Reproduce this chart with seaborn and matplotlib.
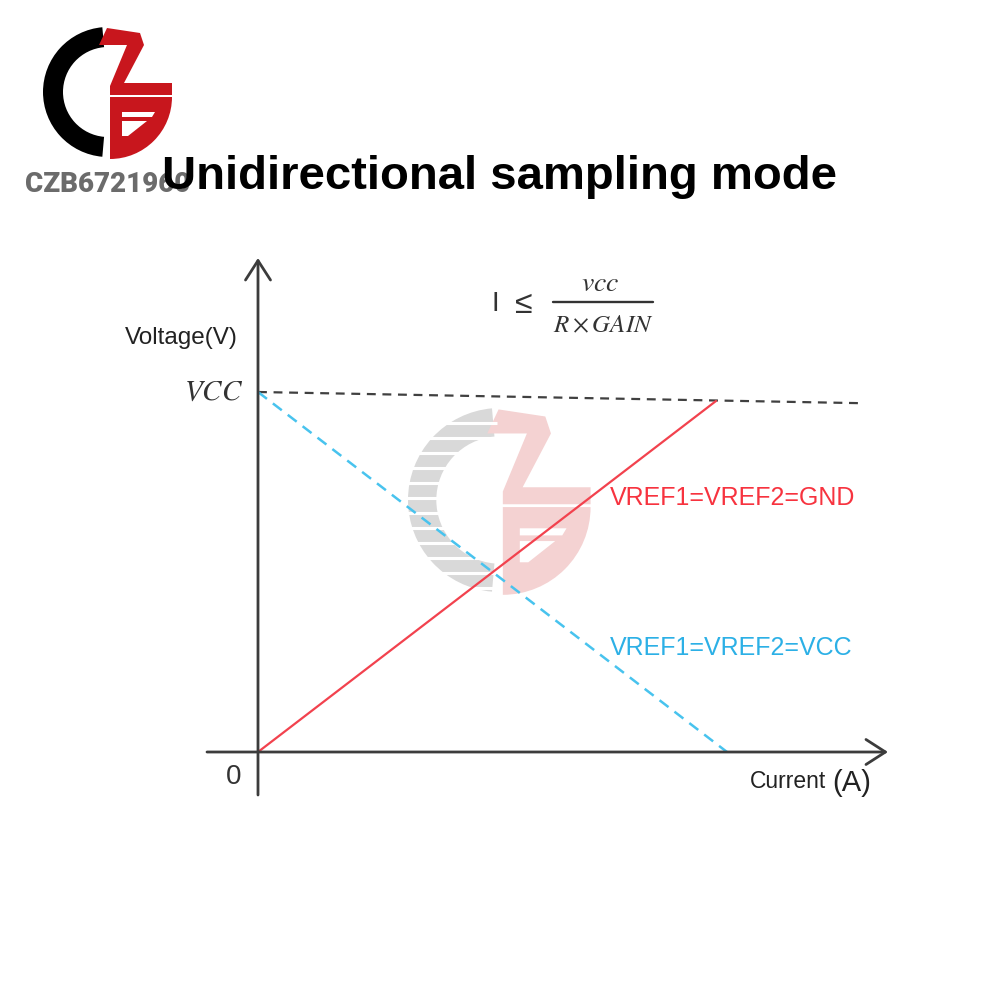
import numpy as np
import pandas as pd
import matplotlib
matplotlib.use("Agg")
import matplotlib.pyplot as plt
from matplotlib.patches import Wedge, Polygon
import seaborn as sns

# ---- data (current in units of I_max, voltage in units of VCC) ----
current_gnd = [0.0, 1.0]
voltage_gnd = [0.0, 0.975]
current_vcc = [0.0, 1.024]
voltage_vcc = [1.0, 0.0]
current_ref = [0.0, 1.314]
voltage_ref = [1.0, 0.969]

title_text = "Unidirectional sampling mode"
label_gnd = "VREF1=VREF2=GND"
label_vcc = "VREF1=VREF2=VCC"

sns.set_theme(style="white")
plt.rcParams["font.family"] = ["Liberation Sans", "DejaVu Sans"]
plt.rcParams["mathtext.fontset"] = "stix"

RED_LINE = "#f2424e"
RED_TEXT = "#f7333f"
BLUE_LINE = "#48c3ee"
BLUE_TEXT = "#2cb0e6"
AXIS = "#3c3c3c"

fig = plt.figure(figsize=(10, 10), dpi=100)

# decoration layer in pixel units (y grows downward)
deco = fig.add_axes([0, 0, 1, 1], zorder=0)
deco.set_xlim(0, 1000)
deco.set_ylim(1000, 0)
deco.axis("off")

# main diagram axes: origin at pixel (258, 752), 458 px per current unit, 360 px per volt unit
OX, OY, SX, SY = 258, 752, 458, 360
ax = fig.add_axes([0, 0, 1, 1], zorder=1)
ax.patch.set_alpha(0)
ax.axis("off")


def draw_mark(a, cx, cy, R, left_c, right_c, stripes=False):
    """CZB emblem: a C on the left, a Z stacked on a B on the right."""
    s = R / 65.0

    def P(x, y):
        return (cx + (x - 108) * s, cy + (y - 92) * s)

    a.add_patch(Wedge((cx, cy), R, 95, 265, width=20 * s, color=left_c, lw=0))
    z_shape = [P(107, 28), P(140, 33), P(144, 45), P(124, 83), P(172, 83),
               P(172, 95), P(110, 95), P(110, 86), P(127, 45), P(99, 45)]
    a.add_patch(Polygon(z_shape, closed=True, color=right_c, lw=0))
    a.add_patch(Wedge(P(110, 97), 62 * s, 0, 90, color=right_c, lw=0))
    a.add_patch(Polygon([P(122, 112), P(155, 112), P(152, 117), P(122, 117)],
                        closed=True, color="white", lw=0))
    a.add_patch(Polygon([P(122, 121), P(147, 121), P(128, 136), P(122, 136)],
                        closed=True, color="white", lw=0))
    if stripes:
        for yy in np.arange(cy - R + 15, cy + R, 15.0):
            a.plot([cx - R - 2, cx - 3], [yy, yy], color="white", lw=2.2,
                   solid_capstyle="butt")


# faded watermark behind the diagram
draw_mark(deco, 500, 500, 92, "#d9d9d9", "#f4d2d2", stripes=True)

# logo in the corner
draw_mark(deco, 108, 92, 65, "#000000", "#c8161d")
deco.text(108, 192, "CZB6721960", ha="center", va="baseline", color="#6b6b6b",
          fontsize=20, fontweight="black", family=["Roboto", "DejaVu Sans"])

# title
deco.text(500, 189, title_text, ha="center", va="baseline", color="black",
          fontsize=34, fontweight="bold")

# axes with open arrow heads
arrow = dict(arrowstyle="->,head_length=0.7,head_width=0.45", lw=2.0,
             color=AXIS, mutation_scale=20, shrinkA=0, shrinkB=0)
ax.annotate("", xy=((888 - OX) / SX, 0), xytext=((207 - OX) / SX, 0), arrowprops=arrow)
ax.annotate("", xy=(0, (OY - 258) / SY), xytext=(0, (OY - 795) / SY), arrowprops=arrow)

# lines
df_gnd = pd.DataFrame({"current": current_gnd, "voltage": voltage_gnd})
df_vcc = pd.DataFrame({"current": current_vcc, "voltage": voltage_vcc})
df_ref = pd.DataFrame({"current": current_ref, "voltage": voltage_ref})

sns.lineplot(data=df_ref, x="current", y="voltage", ax=ax, color="#404040",
             lw=1.6, linestyle=(0, (4, 3)), sort=False, legend=False)
sns.lineplot(data=df_vcc, x="current", y="voltage", ax=ax, color=BLUE_LINE,
             lw=1.8, linestyle=(0, (4.5, 3)), sort=False, legend=False)
sns.lineplot(data=df_gnd, x="current", y="voltage", ax=ax, color=RED_LINE,
             lw=1.6, sort=False, legend=False)
ax.set_xlim(-OX / SX, (1000 - OX) / SX)
ax.set_ylim(-(1000 - OY) / SY, OY / SY)

# formula
deco.text(495, 304, "I", ha="center", va="center", fontsize=20, color="#333333")
deco.text(523, 305, "\u2264", ha="center", va="center", fontsize=23, color="#333333")
deco.plot([553, 653], [302, 302], color="#333333", lw=1.7)
deco.text(600, 291, r"$vcc$", ha="center", va="baseline", fontsize=20, color="#333333")
deco.text(603, 332, r"$R\times GAIN$", ha="center", va="baseline", fontsize=18, color="#333333")

# axis labels
deco.text(181, 338, "Voltage(V)", ha="center", va="center", fontsize=17.5, color="#222222")
deco.text(243, 392, r"$VCC$", ha="right", va="center", fontsize=21, color="#333333")
deco.text(234, 777, "0", ha="center", va="center", fontsize=20, color="#333333")
deco.text(826, 781, "Current", ha="right", va="center", fontsize=16.5, color="#222222")
deco.text(852, 783, "(A)", ha="center", va="center", fontsize=21, color="#222222")

# series labels
deco.text(610, 498, label_gnd, ha="left", va="center", fontsize=18, color=RED_TEXT)
deco.text(610, 648, label_vcc, ha="left", va="center", fontsize=18, color=BLUE_TEXT)

fig.savefig("out.png", dpi=100, facecolor="white")
